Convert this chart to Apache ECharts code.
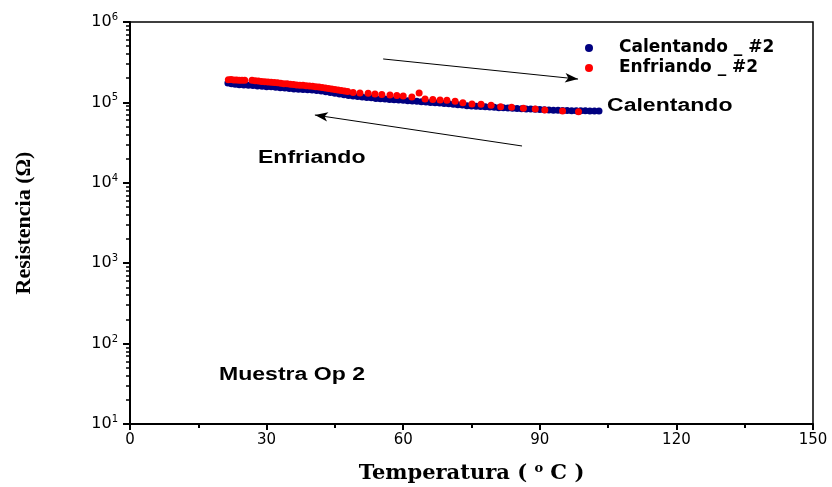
<!DOCTYPE html>
<html>
<head>
<meta charset="utf-8">
<script src="https://cdn.jsdelivr.net/npm/echarts@6/dist/echarts.min.js"></script>
<style>
  html, body { margin: 0; padding: 0; background: #fff; }
  #chart { width: 832px; height: 487px; }
</style>
</head>
<body>
<div id="chart"></div>
<script>
// Calentando _ #2 (heating), temperature in C, resistance in ohm
const calentandoT = [21.5, 22.3, 23.1, 24.0, 25.0, 26.0, 27.0, 28.0, 29.0, 30.0,
  31.0, 32.0, 33.0, 34.0, 35.0, 36.0, 37.0, 38.0, 39.0, 40.0,
  41.0, 42.0, 43.0, 44.0, 45.0, 46.0, 47.0, 48.0, 49.0, 50.0,
  51.0, 52.0, 53.0, 54.0, 55.0, 56.0, 57.0, 58.0, 59.0, 60.0,
  61.0, 62.0, 63.0, 64.0, 65.0, 66.0, 67.0, 68.0, 69.0, 70.0,
  71.0, 72.0, 73.0, 74.0, 75.0, 76.0, 77.0, 78.0, 79.0, 80.0,
  81.0, 82.0, 83.0, 84.0, 85.0, 86.0, 87.0, 88.0, 89.0, 90.0,
  91.0, 92.0, 93.0, 94.0, 95.0, 96.0, 97.0, 98.0, 99.0, 100.0,
  101.0, 102.0, 103.0]
const calentandoR = [1.74e5, 1.71e5, 1.68e5, 1.66e5, 1.65e5, 1.63e5, 1.62e5, 1.60e5, 1.59e5, 1.57e5,
  1.56e5, 1.54e5, 1.52e5, 1.51e5, 1.49e5, 1.47e5, 1.46e5, 1.45e5, 1.44e5, 1.43e5,
  1.41e5, 1.39e5, 1.36e5, 1.33e5, 1.30e5, 1.27e5, 1.245e5, 1.22e5, 1.20e5, 1.18e5,
  1.17e5, 1.15e5, 1.14e5, 1.12e5, 1.11e5, 1.10e5, 1.09e5, 1.08e5, 1.07e5, 1.06e5,
  1.05e5, 1.04e5, 1.03e5, 1.02e5, 1.01e5, 1.00e5, 9.9e4, 9.8e4, 9.7e4, 9.6e4,
  9.5e4, 9.35e4, 9.25e4, 9.1e4, 9.0e4, 8.95e4, 8.9e4, 8.8e4, 8.75e4, 8.7e4,
  8.6e4, 8.55e4, 8.5e4, 8.45e4, 8.4e4, 8.35e4, 8.3e4, 8.25e4, 8.2e4, 8.15e4,
  8.1e4, 8.05e4, 8.0e4, 8.0e4, 7.95e4, 7.95e4, 7.9e4, 7.9e4, 7.85e4, 7.85e4,
  7.8e4, 7.8e4, 7.8e4]

// Enfriando _ #2 (cooling)
const enfriandoT = [21.6, 22.2, 22.8, 23.4, 24.0, 24.6, 25.2,
  26.8, 27.5, 28.2, 28.9, 29.6, 30.3, 31.0, 31.7, 32.4, 33.1, 33.8, 34.5, 35.2,
  35.9, 36.6, 37.3, 38.0, 38.7, 39.4, 40.1, 40.8, 41.5, 42.2, 42.9, 43.6, 44.3,
  45.0, 45.7, 46.4, 47.1, 47.8,
  49.0, 50.5, 52.3, 53.8, 55.3, 57.1, 58.6, 60.0, 61.9, 63.5, 64.8, 66.5, 68.1,
  69.6, 71.4, 73.1, 75.1, 77.1, 79.3, 81.4, 83.8, 86.4, 89.0, 91.1, 95.0, 98.5]
const enfriandoR = [1.91e5, 1.92e5, 1.90e5, 1.90e5, 1.89e5, 1.88e5, 1.88e5,
  1.88e5, 1.86e5, 1.84e5, 1.82e5, 1.81e5, 1.80e5, 1.78e5, 1.77e5, 1.75e5, 1.73e5, 1.71e5, 1.70e5, 1.68e5,
  1.67e5, 1.65e5, 1.64e5, 1.63e5, 1.61e5, 1.60e5, 1.59e5, 1.57e5, 1.55e5, 1.53e5, 1.51e5, 1.49e5, 1.47e5,
  1.45e5, 1.43e5, 1.41e5, 1.39e5, 1.37e5,
  1.33e5, 1.31e5, 1.30e5, 1.27e5, 1.25e5, 1.24e5, 1.22e5, 1.20e5, 1.17e5, 1.31e5, 1.10e5, 1.09e5, 1.07e5,
  1.06e5, 1.03e5, 9.9e4, 9.55e4, 9.5e4, 9.2e4, 8.85e4, 8.7e4, 8.45e4, 8.25e4, 8.05e4, 7.8e4, 7.65e4]

const xTicks = [0, 30, 60, 90, 120, 150]
const yDecades = [10, 100, 1000, 10000, 100000, 1000000]
// log minor ticks 2..9 x 10^k
const yMinor = []
for (let k = 1; k < 6; k++) {
  for (let m = 2; m <= 9; m++) yMinor.push(m * Math.pow(10, k))
}

// arrows, in data units: [start, end]
const arrowHeat = [[55.6, 3.47e5], [98.4, 1.95e5]]
const arrowCool = [[86.1, 2.87e4], [40.6, 6.97e4]]

const zip = (xs, ys) => xs.map((x, i) => [x, ys[i]])

const sans = 'DejaVu Sans'
const serif = 'Liberation Serif'

const chart = echarts.init(document.getElementById('chart'))

const arrowLine = (a) => [
  { coord: a[0], symbol: 'none' },
  { coord: a[1], symbol: 'arrow', symbolSize: [7, 13] }
]

chart.setOption({
  animation: false,
  grid: {
    left: 130, right: 19, top: 22, bottom: 63,
    outerBoundsMode: 'none',
    show: true, borderColor: '#000', borderWidth: 1.5, backgroundColor: 'transparent'
  },
  legend: {
    orient: 'vertical',
    left: 580, top: 33,
    itemGap: 0,
    itemWidth: 8, itemHeight: 8,
    icon: 'circle',
    textStyle: { fontFamily: sans, fontWeight: 'bold', fontSize: 17, color: '#000', padding: [0, 0, 0, 21], lineHeight: 20 },
    data: ['Calentando _ #2', 'Enfriando _ #2']
  },
  xAxis: {
    type: 'value', min: xTicks[0], max: xTicks[xTicks.length - 1], interval: 30,
    name: '{t|Temperatura ( }{s|o}{t| C )}',
    nameLocation: 'middle', nameGap: 38,
    nameTextStyle: {
      rich: {
        t: { fontFamily: 'DejaVu Serif', fontWeight: 'bold', fontSize: 21, color: '#000' },
        s: { fontFamily: 'DejaVu Serif', fontWeight: 'bold', fontSize: 13, color: '#000', padding: [0, 0, 11, 0] }
      }
    },
    axisLine: { lineStyle: { color: '#000', width: 2 } },
    axisTick: { length: 6, lineStyle: { color: '#000', width: 2 } },
    minorTick: { show: true, splitNumber: 2, length: 4, lineStyle: { color: '#000', width: 2 } },
    splitLine: { show: false },
    axisLabel: { margin: 9, fontFamily: sans, fontSize: 15, color: '#000' }
  },
  yAxis: [{
    type: 'log', logBase: 10, min: yDecades[0], max: yDecades[yDecades.length - 1],
    name: 'Resistencia (\u03A9)',
    nameLocation: 'middle', nameGap: 95,
    nameTextStyle: { fontFamily: serif, fontWeight: 'bold', fontSize: 22, color: '#000' },
    axisLine: { show: true, lineStyle: { color: '#000', width: 2 } },
    axisTick: { show: true, length: 7, lineStyle: { color: '#000', width: 2 } },
    splitLine: { show: false },
    axisLabel: {
      margin: 12,
      formatter: (v) => '{b|10}{s|' + Math.round(Math.log10(v)) + '}',
      rich: {
        b: { fontFamily: sans, fontSize: 16, color: '#000' },
        s: { fontFamily: sans, fontSize: 10, color: '#000', padding: [0, 0, 9, 0] }
      }
    }
  }, {
    type: 'log', logBase: 10, min: yDecades[0], max: yDecades[yDecades.length - 1],
    position: 'left',
    axisLine: { show: false },
    axisTick: { show: true, length: 4, customValues: yMinor, lineStyle: { color: '#000', width: 1.5 } },
    axisLabel: { show: false },
    splitLine: { show: false }
  }],
  series: [{
    name: 'Calentando _ #2',
    type: 'scatter',
    symbolSize: 7,
    itemStyle: { color: '#000080', opacity: 1 },
    data: zip(calentandoT, calentandoR),
    markLine: {
      silent: true,
      animation: false,
      label: { show: false },
      lineStyle: { color: '#000', width: 1, type: 'solid' },
      data: [arrowLine(arrowHeat), arrowLine(arrowCool)]
    }
  }, {
    name: 'Enfriando _ #2',
    type: 'scatter',
    symbolSize: 7,
    itemStyle: { color: '#ff0000', opacity: 1 },
    data: zip(enfriandoT, enfriandoR)
  }],
  graphic: [
    { type: 'text', x: 607, y: 106, scaleX: 1.28, style: { text: 'Calentando', fontFamily: 'Liberation Sans', fontWeight: 'bold', fontSize: 18, fill: '#000', verticalAlign: 'middle' } },
    { type: 'text', x: 258, y: 158, scaleX: 1.28, style: { text: 'Enfriando', fontFamily: 'Liberation Sans', fontWeight: 'bold', fontSize: 18, fill: '#000', verticalAlign: 'middle' } },
    { type: 'text', x: 219, y: 375, scaleX: 1.28, style: { text: 'Muestra Op 2', fontFamily: 'Liberation Sans', fontWeight: 'bold', fontSize: 18, fill: '#000', verticalAlign: 'middle' } }
  ]
})
</script>
</body>
</html>
